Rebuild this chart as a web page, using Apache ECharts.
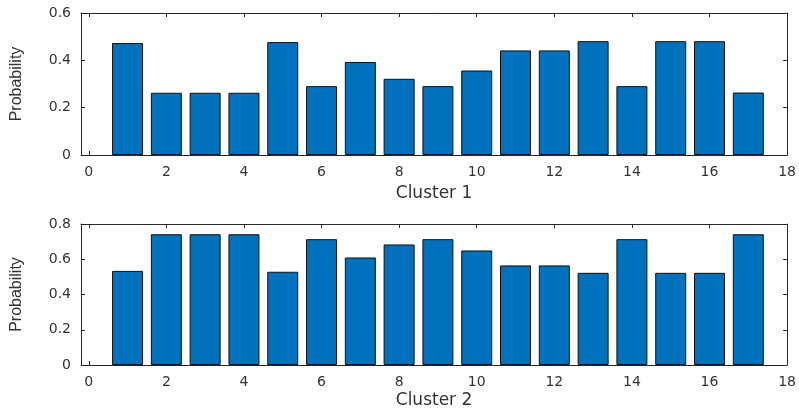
<!DOCTYPE html>
<html>
<head>
<meta charset="utf-8">
<script src="https://cdn.jsdelivr.net/npm/echarts@6/dist/echarts.min.js"></script>
<style>
html,body{margin:0;padding:0;background:#fff;}
#c{width:799px;height:410px;}
</style>
</head>
<body>
<div id="c"></div>
<script>
var clusterIds = [1,2,3,4,5,6,7,8,9,10,11,12,13,14,15,16,17];
var cluster1 = [0.473,0.263,0.263,0.263,0.477,0.291,0.393,0.322,0.291,0.357,0.442,0.442,0.481,0.291,0.481,0.481,0.264];
var cluster2 = [0.534,0.742,0.742,0.742,0.529,0.714,0.610,0.684,0.714,0.650,0.565,0.565,0.523,0.714,0.523,0.523,0.742];
var xTicks = [0,2,4,6,8,10,12,14,16,18];
var xNames = ['Cluster 1','Cluster 2'];
var yName = 'Probability';
var yMax = [0.6, 0.8];

var FONT = 'DejaVu Sans';
var axisColor = '#262626';
var labelColor = '#333333';
var nameGaps = [30, 27];

var grids = [
  {left:81, width:709, top:13, height:142},
  {left:81, width:709, top:224, height:141}
];

function pairs(vals){ return clusterIds.map(function(x,i){return [x, vals[i]];}); }

var xAxes = [], yAxes = [], series = [];
[cluster1, cluster2].forEach(function(vals, g){
  xAxes.push({
    type:'value', gridIndex:g, min:-0.2, max:18, position:'bottom',
    name:xNames[g], nameLocation:'middle', nameGap:nameGaps[g],
    nameTextStyle:{fontFamily:FONT, fontSize:17, color:labelColor},
    axisLine:{show:true, onZero:false, lineStyle:{color:axisColor, width:1}},
    axisTick:{show:true, inside:true, length:4, customValues:xTicks, lineStyle:{color:axisColor}},
    axisLabel:{show:true, customValues:xTicks, margin:10, fontFamily:FONT, fontSize:14, color:labelColor},
    splitLine:{show:false}
  });
  xAxes.push({
    type:'value', gridIndex:g, min:-0.2, max:18, position:'top',
    axisLine:{show:true, onZero:false, lineStyle:{color:axisColor, width:1}},
    axisTick:{show:true, inside:true, length:4, customValues:xTicks, lineStyle:{color:axisColor}},
    axisLabel:{show:false}, splitLine:{show:false}
  });
  yAxes.push({
    type:'value', gridIndex:g, min:0, max:yMax[g], interval:0.2, position:'left',
    name:yName, nameLocation:'middle', nameGap:56, nameRotate:90,
    nameTextStyle:{fontFamily:'Liberation Sans', fontSize:16, color:labelColor},
    axisLine:{show:true, onZero:false, lineStyle:{color:axisColor, width:1}},
    axisTick:{show:true, inside:true, length:4, lineStyle:{color:axisColor}},
    axisLabel:{show:true, margin:10, fontFamily:FONT, fontSize:14, color:labelColor,
      formatter:function(v){ return v===0 ? '0' : v.toFixed(1); }},
    splitLine:{show:false}
  });
  yAxes.push({
    type:'value', gridIndex:g, min:0, max:yMax[g], interval:0.2, position:'right',
    axisLine:{show:true, onZero:false, lineStyle:{color:axisColor, width:1}},
    axisTick:{show:true, inside:true, length:4, lineStyle:{color:axisColor}},
    axisLabel:{show:false}, splitLine:{show:false}
  });
  series.push({
    type:'bar', xAxisIndex:g*2, yAxisIndex:g*2, data:pairs(vals),
    barWidth:31,
    itemStyle:{color:'#0072BD', borderColor:'#111', borderWidth:1},
    silent:true
  });
});

var chart = echarts.init(document.getElementById('c'), null, {renderer:'canvas'});
chart.setOption({
  animation:false,
  backgroundColor:'#fff',
  grid:grids,
  xAxis:xAxes,
  yAxis:yAxes,
  series:series
});
</script>
</body>
</html>
